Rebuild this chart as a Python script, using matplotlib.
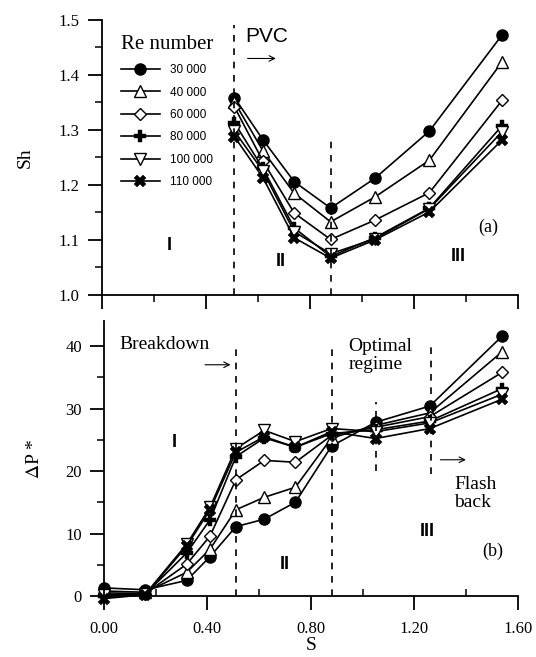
import numpy as np
import matplotlib
matplotlib.use("Agg")
import matplotlib.pyplot as plt
from matplotlib.ticker import MultipleLocator, FormatStrFormatter
from matplotlib.lines import Line2D

# ---------------- data ----------------
re_labels = ["30 000", "40 000", "60 000", "80 000", "100 000", "110 000"]
markers = ["o", "^", "D", "P", "v", "X"]

s_top = [0.51, 0.62, 0.74, 0.88, 1.05, 1.26, 1.54]
sh_30k = [1.359, 1.282, 1.206, 1.158, 1.212, 1.298, 1.473]
sh_40k = [1.351, 1.262, 1.185, 1.133, 1.178, 1.245, 1.424]
sh_60k = [1.342, 1.243, 1.149, 1.101, 1.136, 1.186, 1.354]
sh_80k = [1.313, 1.230, 1.122, 1.070, 1.104, 1.158, 1.308]
sh_100k = [1.298, 1.225, 1.115, 1.075, 1.102, 1.157, 1.297]
sh_110k = [1.288, 1.213, 1.104, 1.067, 1.100, 1.151, 1.282]

s_bot = [0.00, 0.16, 0.32, 0.41, 0.51, 0.62, 0.74, 0.88, 1.05, 1.26, 1.54]
dp_30k = [1.3, 1.0, 2.5, 6.3, 11.1, 12.3, 15.0, 24.0, 27.8, 30.4, 41.6]
dp_40k = [0.8, 0.6, 3.8, 7.5, 13.8, 15.8, 17.4, 25.3, 27.3, 29.3, 39.1]
dp_60k = [0.5, 0.4, 5.1, 9.6, 18.6, 21.7, 21.4, 25.7, 27.0, 28.7, 35.8]
dp_80k = [0.0, 0.3, 6.9, 12.2, 22.3, 25.3, 23.8, 26.0, 26.6, 28.0, 33.2]
dp_100k = [0.2, 0.3, 8.3, 14.2, 23.6, 26.5, 24.7, 26.8, 26.3, 27.7, 32.3]
dp_110k = [-0.4, 0.2, 8.0, 13.8, 23.0, 25.5, 23.8, 26.3, 25.2, 26.8, 31.5]

sh_all = [sh_30k, sh_40k, sh_60k, sh_80k, sh_100k, sh_110k]
dp_all = [dp_30k, dp_40k, dp_60k, dp_80k, dp_100k, dp_110k]

# ---------------- style ----------------
SERIF = ["Liberation Serif", "DejaVu Serif"]
SANS = ["Liberation Sans", "DejaVu Sans"]
plt.rcParams["font.family"] = SERIF
plt.rcParams["mathtext.fontset"] = "stix"


def mstyle(m):
    d = dict(marker=m, color="black", linewidth=1.2, markeredgecolor="black",
             markeredgewidth=1.0, clip_on=False)
    if m == "o":
        d.update(markerfacecolor="black", markersize=8)
    elif m in ("P", "X"):
        d.update(markerfacecolor="black", markersize=8, markeredgewidth=0.3)
    elif m == "D":
        d.update(markerfacecolor="white", markersize=6.5)
    else:
        d.update(markerfacecolor="white", markersize=8)
    return d


def style_axes(ax, minor_x_dir):
    for side in ["top", "right"]:
        ax.spines[side].set_visible(False)
    for side in ["left", "bottom"]:
        ax.spines[side].set_linewidth(1.3)
    ax.xaxis.set_major_locator(MultipleLocator(0.4))
    ax.xaxis.set_minor_locator(MultipleLocator(0.2))
    ax.tick_params(axis="both", which="major", direction="out", length=10,
                   width=1.3, labelsize=12)
    ax.tick_params(axis="y", which="major", pad=6)
    ax.tick_params(axis="x", which="major", pad=8)
    ax.tick_params(axis="y", which="minor", direction="out", length=5, width=1.1)
    ax.tick_params(axis="x", which="minor", direction=minor_x_dir, length=5, width=1.1)
    for lab in ax.get_yticklabels() + ax.get_xticklabels():
        lab.set_family(SERIF)


fig = plt.figure(figsize=(5.36, 6.57), dpi=100)
ax1 = fig.add_axes([0.190, 0.551, 0.776, 0.4186])
ax2 = fig.add_axes([0.194, 0.0928, 0.772, 0.4186])

# ---------------- top panel ----------------
for vals, m in zip(sh_all, markers):
    ax1.plot(s_top, vals, **mstyle(m))
ax1.set_xlim(0, 1.6)
ax1.set_ylim(1.0, 1.5)
ax1.yaxis.set_major_locator(MultipleLocator(0.1))
ax1.yaxis.set_minor_locator(MultipleLocator(0.05))
ax1.yaxis.set_major_formatter(FormatStrFormatter("%.1f"))
style_axes(ax1, "out")
ax1.tick_params(axis="x", labelbottom=False)
ax1.set_ylabel("Sh", fontsize=14, labelpad=18)

ax1.plot([0.51, 0.51], [1.0, 1.49], ls=(0, (4, 4)), color="black", lw=1.2)
ax1.plot([0.88, 0.88], [1.0, 1.28], ls=(0, (4, 4)), color="black", lw=1.2)

handles = [Line2D([], [], **mstyle(m)) for m in markers]
leg = ax1.legend(handles, re_labels, loc="upper left",
                 bbox_to_anchor=(0.02, 0.985), frameon=False, handlelength=3.3,
                 labelspacing=0.88, handletextpad=0.9, title="Re number",
                 prop={"family": SANS, "size": 8.5},
                 title_fontproperties={"family": SERIF, "size": 15})
leg._legend_box.align = "left"

ax1.text(0.55, 1.47, "PVC", fontsize=15, family=SANS, va="center", ha="left")
ax1.annotate("", xy=(0.68, 1.43), xytext=(0.55, 1.43),
             arrowprops=dict(arrowstyle="->", lw=0.8, color="black"))
ax1.text(0.26, 1.09, "I", fontsize=13, weight="bold", family=SANS, ha="center", va="center")
ax1.text(0.69, 1.06, "II", fontsize=13, weight="bold", family=SANS, ha="center", va="center")
ax1.text(1.37, 1.07, "III", fontsize=13, weight="bold", family=SANS, ha="center", va="center")
ax1.text(1.485, 1.123, "(a)", fontsize=13, ha="center", va="center")

# ---------------- bottom panel ----------------
for vals, m in zip(dp_all, markers):
    ax2.plot(s_bot, vals, **mstyle(m))
ax2.set_xlim(0, 1.6)
ax2.set_ylim(0, 44)
ax2.yaxis.set_major_locator(MultipleLocator(10))
ax2.yaxis.set_minor_locator(MultipleLocator(5))
ax2.xaxis.set_major_formatter(FormatStrFormatter("%.2f"))
style_axes(ax2, "in")
ax2.set_ylabel(r"$\Delta$P *", fontsize=14, labelpad=16)
ax2.set_xlabel("S", fontsize=14, labelpad=0)

ax2.plot([0.51, 0.51], [0, 40], ls=(0, (4, 4)), color="black", lw=1.2)
ax2.plot([0.88, 0.88], [0, 40], ls=(0, (4, 4)), color="black", lw=1.2)
ax2.plot([1.05, 1.05], [20, 31], ls=(0, (4, 4)), color="black", lw=1.2)
ax2.plot([1.265, 1.265], [19.5, 40], ls=(0, (4, 4)), color="black", lw=1.2)

ax2.text(0.06, 40.2, "Breakdown", fontsize=14, ha="left", va="center")
ax2.annotate("", xy=(0.50, 37.0), xytext=(0.38, 37.0),
             arrowprops=dict(arrowstyle="->", lw=0.8, color="black"))
ax2.text(0.945, 38.5, "Optimal\nregime", fontsize=14,
         ha="left", va="center", linespacing=1.05)
ax2.annotate("", xy=(1.41, 21.8), xytext=(1.29, 21.8),
             arrowprops=dict(arrowstyle="->", lw=0.8, color="black"))
ax2.text(1.355, 16.4, "Flash\nback", fontsize=14,
         ha="left", va="center", linespacing=1.05)
ax2.text(0.27, 24.5, "I", fontsize=13, weight="bold", family=SANS, ha="center", va="center")
ax2.text(0.70, 5.0, "II", fontsize=13, weight="bold", family=SANS, ha="center", va="center")
ax2.text(1.25, 10.3, "III", fontsize=13, weight="bold", family=SANS, ha="center", va="center")
ax2.text(1.505, 7.2, "(b)", fontsize=13, ha="center", va="center")

fig.savefig("out.png", dpi=100)
